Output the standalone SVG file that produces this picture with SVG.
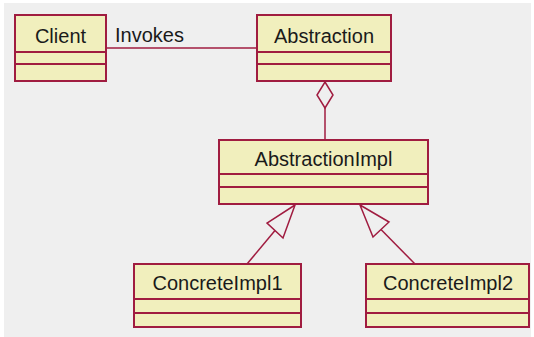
<svg xmlns="http://www.w3.org/2000/svg" width="534" height="337" viewBox="0 0 534 337">
  <style>
    .box { fill: #f1efbd; stroke: #a01c40; stroke-width: 2; }
    .sep { stroke: #a01c40; stroke-width: 2; fill: none; }
    .lbl { font-family: "Liberation Sans", Arial, sans-serif; font-size: 20px; fill: #1a1a1a; text-anchor: middle; }
    .edge { stroke: #a01c40; stroke-width: 1.5; fill: none; }
    .head { stroke: #a01c40; stroke-width: 1.5; fill: #efefef; }
  </style>
  <rect x="0" y="0" width="534" height="337" fill="#ffffff"/>
  <rect x="4" y="3" width="527" height="334" fill="#efefef"/>

  <g id="connectors">
    <!-- Client invokes Abstraction -->
    <line class="edge" x1="106" y1="48" x2="257" y2="48"/>
    <text class="lbl" x="115" y="42" style="text-anchor:start">Invokes</text>
    <!-- aggregation: Abstraction holds AbstractionImpl -->
    <line class="edge" x1="325" y1="108" x2="325" y2="140"/>
    <polygon class="head" points="325,82 333,95 325,108 317,95"/>
    <!-- generalization: ConcreteImpl1 -> AbstractionImpl -->
    <line class="edge" x1="247" y1="264" x2="275" y2="230.5"/>
    <polygon class="head" points="295,205 267,223 283,238"/>
    <!-- generalization: ConcreteImpl2 -> AbstractionImpl -->
    <line class="edge" x1="415" y1="264" x2="381" y2="229.5"/>
    <polygon class="head" points="360,205 389,222 373,237"/>
  </g>

  <g id="client">
    <rect class="box" x="15" y="15" width="91" height="66"/>
    <line class="sep" x1="15" y1="52" x2="106" y2="52"/>
    <line class="sep" x1="15" y1="64" x2="106" y2="64"/>
    <text class="lbl" x="60.5" y="43">Client</text>
  </g>

  <g id="abstraction">
    <rect class="box" x="257" y="15" width="134" height="66"/>
    <line class="sep" x1="257" y1="52" x2="391" y2="52"/>
    <line class="sep" x1="257" y1="64" x2="391" y2="64"/>
    <text class="lbl" x="324" y="43">Abstraction</text>
  </g>

  <g id="abstractionImpl">
    <rect class="box" x="219" y="140" width="209" height="64"/>
    <line class="sep" x1="219" y1="174" x2="428" y2="174"/>
    <line class="sep" x1="219" y1="187" x2="428" y2="187"/>
    <text class="lbl" x="323.5" y="166">AbstractionImpl</text>
  </g>

  <g id="concreteImpl1">
    <rect class="box" x="134" y="264" width="167" height="63"/>
    <line class="sep" x1="134" y1="299" x2="301" y2="299"/>
    <line class="sep" x1="134" y1="313" x2="301" y2="313"/>
    <text class="lbl" x="217.5" y="290">ConcreteImpl1</text>
  </g>

  <g id="concreteImpl2">
    <rect class="box" x="366" y="264" width="163" height="63"/>
    <line class="sep" x1="366" y1="299" x2="529" y2="299"/>
    <line class="sep" x1="366" y1="313" x2="529" y2="313"/>
    <text class="lbl" x="448" y="290">ConcreteImpl2</text>
  </g>
</svg>
